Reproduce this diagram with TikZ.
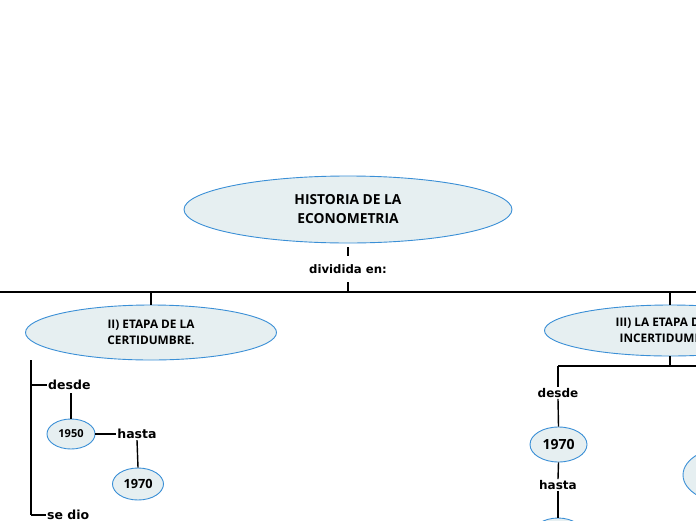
\documentclass[tikz,border=0pt]{standalone}
\usepackage{fontspec}
\setmainfont{Open Sans}
\newfontfamily\lblfont{DejaVu Sans}
\usetikzlibrary{shapes.geometric}
\definecolor{ellfill}{HTML}{E6EFF1}
\definecolor{elldraw}{HTML}{3A8FD6}
\tikzset{
  bubble/.style={ellipse, draw=elldraw, fill=ellfill, line width=0.9pt, inner sep=0pt, align=center, font=\bfseries},
  lbl/.style={inner sep=1pt, font=\lblfont\bfseries\fontsize{12.5}{14}\selectfont},
  conn/.style={line width=1.4pt, black}
}
\begin{document}
\begin{tikzpicture}[x=1pt,y=-1pt]
\useasboundingbox (0,0) rectangle (696,520);
% main
\node[bubble, minimum width=328pt, minimum height=67pt, font=\bfseries\fontsize{13.8}{19}\selectfont] (main) at (348,209.5) {HISTORIA DE LA\\ECONOMETRIA};
\node[lbl, font=\lblfont\bfseries\fontsize{11.7}{14}\selectfont] (div) at (348,269) {dividida en:};
\coordinate (m1) at (348,247);
\coordinate (m2) at (348,256);
\coordinate (hub) at (348,292);
\coordinate (d2) at (348,282);
\coordinate (lft) at (0,292);
\coordinate (rgt) at (696,292);
\coordinate (b1) at (151,292);
\coordinate (b2) at (670,292);
\draw[conn] (m1) -- (m2);
\draw[conn] (d2) -- (hub);
\draw[conn] (lft) -- (rgt);
% second level
\node[bubble, minimum width=251pt, minimum height=55pt, font=\bfseries\fontsize{11.8}{16}\selectfont] (e2) at (151,332.5) {II) ETAPA DE LA\\CERTIDUMBRE.};
\node[bubble, minimum width=251pt, minimum height=51pt, font=\bfseries\fontsize{11.8}{16}\selectfont] (e3) at (670,330.5) {III) LA ETAPA DE LA\\INCERTIDUMBRE.};
\draw[conn] (b1) -- (e2.north);
\draw[conn] (b2) -- (e3.north);
% left branch
\coordinate (lv1) at (31,360);
\coordinate (lv2) at (31,515);
\coordinate (ld) at (31,385);
\draw[conn] (lv1) -- (lv2);
\node[lbl, anchor=west] (desde1) at (47,385) {desde};
\node[lbl, anchor=west] (sedio) at (46,515) {se dio};
\draw[conn] (ld) -- (desde1.west);
\draw[conn] (lv2) -- (sedio.west);
\node[bubble, minimum width=48pt, minimum height=30pt, font=\bfseries\fontsize{11}{12}\selectfont] (y1950) at (71,434) {1950};
\node[lbl] (hasta1) at (137,434) {hasta};
\node[bubble, minimum width=51pt, minimum height=32pt, font=\bfseries\fontsize{12.7}{14}\selectfont] (y1970a) at (138,484) {1970};
\draw[conn] (71,393) -- (y1950.north);
\draw[conn] (y1950.east) -- (hasta1.west);
\draw[conn] (hasta1.south) -- (y1970a.north);
% right branch
\coordinate (rj) at (670,366);
\coordinate (rl) at (558,366);
\coordinate (rr) at (696,366);
\draw[conn] (e3.south) -- (rj);
\draw[conn] (rl) -- (rr);
\node[lbl, font=\lblfont\bfseries\fontsize{12}{14}\selectfont] (desde2) at (558,393) {desde};
\draw[conn] (rl) -- (desde2.north);
\node[bubble, minimum width=57pt, minimum height=35pt, font=\bfseries\fontsize{14}{16}\selectfont] (y1970b) at (558.5,444.5) {1970};
\draw[conn] (desde2.south) -- (y1970b.north);
\node[lbl, font=\lblfont\bfseries\fontsize{12}{14}\selectfont] (hasta2) at (558,485) {hasta};
\draw[conn] (y1970b.south) -- (hasta2.north);
\node[bubble, minimum width=52pt, minimum height=34pt] (yb) at (558,535) {};
\draw[conn] (hasta2.south) -- (yb.north);
\node[bubble, minimum width=100pt, minimum height=58pt] (yr) at (733,475) {};
\end{tikzpicture}
\end{document}
